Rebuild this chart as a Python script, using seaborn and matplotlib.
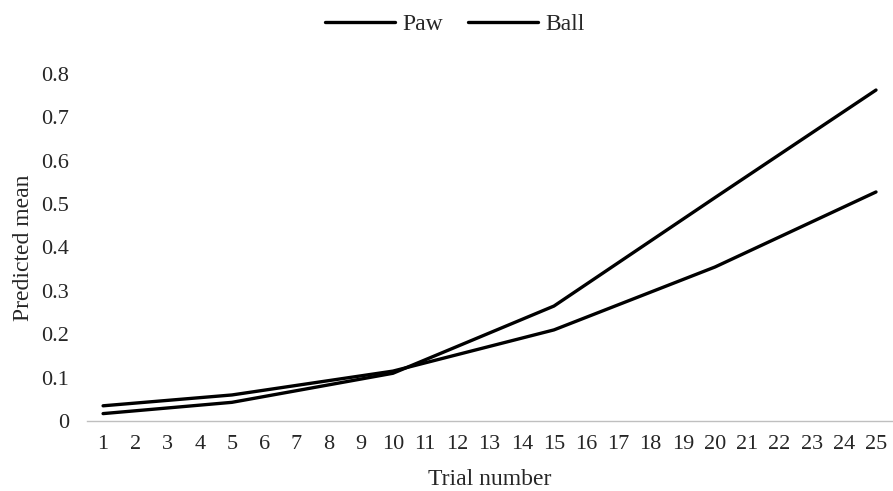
import pandas as pd
import numpy as np
import matplotlib.pyplot as plt
import seaborn as sns

# Values
trials = [1, 5, 10, 15, 20, 25]
paw = [0.017, 0.043, 0.110, 0.265, 0.515, 0.763]
ball = [0.035, 0.060, 0.115, 0.210, 0.355, 0.528]
tick_labels = [str(i) for i in range(1, 26)]

data = pd.DataFrame({
    'Trial': trials * 2,
    'Mean': paw + ball,
    'Group': ['Paw'] * len(trials) + ['Ball'] * len(trials),
})

sns.set_style('white')
plt.rcParams['font.family'] = ['Liberation Serif', 'DejaVu Serif']

fig = plt.figure(figsize=(8.93, 4.91), dpi=100)
ax = fig.add_axes([0.0974, 0.1426, 0.9016, 0.7067])

sns.lineplot(data=data, x='Trial', y='Mean', hue='Group',
             palette={'Paw': 'black', 'Ball': 'black'},
             linewidth=2.4, ax=ax)

ax.set_xlim(0.5, 25.5)
ax.set_ylim(0, 0.8)
ax.set_xticks(range(1, 26))
ax.set_xticklabels(tick_labels, fontsize=16)
ax.set_yticks(np.arange(0, 0.81, 0.1))
ax.set_yticklabels(['0'] + [f'{v:.1f}' for v in np.arange(0.1, 0.81, 0.1)], fontsize=16)
ax.tick_params(axis='y', length=0, pad=13)
ax.tick_params(axis='x', length=0, pad=10)

for side in ['top', 'right', 'left']:
    ax.spines[side].set_visible(False)
ax.spines['bottom'].set_color('#bfbfbf')
ax.spines['bottom'].set_linewidth(1)

ax.set_xlabel('Trial number', fontsize=17, labelpad=11)
ax.set_ylabel('Predicted mean', fontsize=17, labelpad=5)

ax.legend(loc='center', bbox_to_anchor=(0.509, 0.951), bbox_transform=fig.transFigure,
          ncol=2, frameon=False, fontsize=17, handlelength=2.97, columnspacing=1.06,
          handletextpad=0.3)

fig.savefig('out.png', dpi=100)
